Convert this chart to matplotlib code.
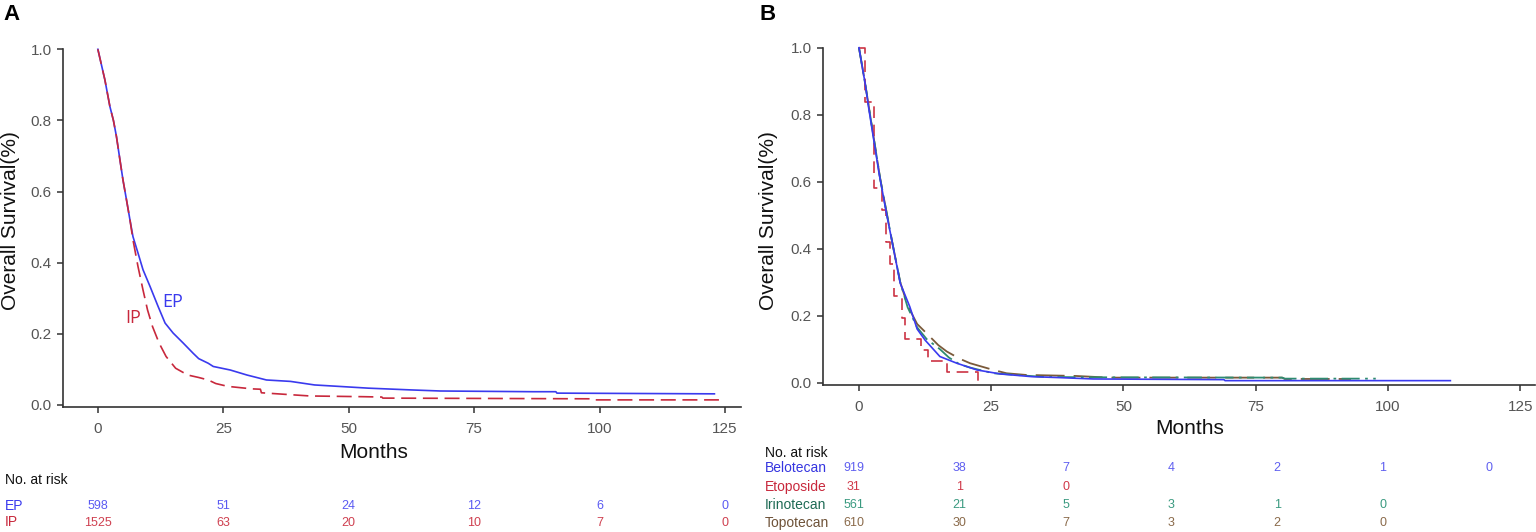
import matplotlib
matplotlib.use("Agg")
import matplotlib.pyplot as plt
from matplotlib import transforms

plt.rcParams['font.family'] = ['Liberation Sans', 'DejaVu Sans']

# ---------------- Panel A data ----------------
ep_t = [0, 1.4, 2.4, 3.1, 3.7, 4.4, 5.0, 5.7, 6.4, 7.0, 8.0, 9.0, 10.4, 12.0, 13.4, 15.0, 17.0, 19.0,
        20.1, 22.0, 23.0, 26.4, 29.7, 33.6, 38.4, 43.2, 48.0, 53.9, 62.5, 68.3, 86.7, 91.3, 91.5, 122.9]
ep_s = [1.0, 0.914, 0.839, 0.80, 0.755, 0.689, 0.633, 0.577, 0.52, 0.473, 0.427, 0.38, 0.333, 0.277, 0.23,
        0.202, 0.174, 0.145, 0.13, 0.117, 0.108, 0.098, 0.084, 0.070, 0.066, 0.056, 0.052, 0.047, 0.042,
        0.039, 0.037, 0.037, 0.033, 0.031]

ip_t = [0, 1.4, 2.4, 3.1, 3.7, 4.4, 5.0, 5.7, 6.4, 7.0, 8.0, 9.0, 9.9, 10.9, 12.2, 13.6, 15.5, 17.9,
        20.1, 22.0, 23.5, 25.9, 30.7, 32.4, 32.6, 42.3, 52.9, 56.6, 56.8, 99.0, 99.2, 123.8]
ip_s = [1.0, 0.914, 0.839, 0.80, 0.755, 0.689, 0.633, 0.577, 0.52, 0.464, 0.389, 0.323, 0.267, 0.22,
        0.174, 0.136, 0.103, 0.084, 0.077, 0.070, 0.060, 0.052, 0.045, 0.044, 0.034, 0.025, 0.023,
        0.022, 0.019, 0.017, 0.014, 0.014]

risk_times_A = [0, 25, 50, 75, 100, 125]
risk_groups_A = ['EP', 'IP']
risk_EP = [598, 51, 24, 12, 6, 0]
risk_IP = [1525, 63, 20, 10, 7, 0]

# ---------------- Panel B data ----------------
belo_t = [0, 1.2, 1.8, 2.6, 3.8, 5.2, 6.2, 7.8, 9.6, 11.0, 12.5, 15.3, 18.5, 20.4, 22.3, 26.7, 32.6,
          38.0, 44.3, 69.0, 69.2, 111.8]
belo_s = [1.0, 0.89, 0.824, 0.744, 0.625, 0.505, 0.426, 0.297, 0.227, 0.16, 0.127, 0.078, 0.058, 0.048,
          0.038, 0.026, 0.018, 0.015, 0.011, 0.009, 0.006, 0.006]

etop_t = [0, 1.2, 2.8, 4.3, 5.2, 5.9, 6.6, 8.2, 8.7, 11.8, 13.0, 16.6, 22.5]
etop_s = [1.0, 0.839, 0.581, 0.516, 0.419, 0.355, 0.258, 0.194, 0.129, 0.097, 0.065, 0.032, 0.0]

irin_t = [0, 1.2, 2.6, 4.0, 5.2, 6.4, 7.8, 9.2, 11.0, 12.8, 15.3, 17.0, 19.0, 21.0, 25.4, 34.9, 44.3,
          80.0, 80.5, 97.7]
irin_s = [1.0, 0.89, 0.75, 0.61, 0.51, 0.41, 0.30, 0.225, 0.165, 0.13, 0.10, 0.075, 0.055, 0.045,
          0.028, 0.017, 0.016, 0.015, 0.012, 0.012]

topo_t = [0, 1.2, 2.6, 4.0, 5.2, 6.4, 7.8, 9.2, 11.0, 12.8, 15.0, 16.6, 19.1, 21.0, 25.4, 27.9, 31.6,
          41.0, 47.3, 80.0, 80.5, 93.0]
topo_s = [1.0, 0.89, 0.75, 0.61, 0.51, 0.41, 0.30, 0.23, 0.175, 0.147, 0.112, 0.093, 0.071, 0.058,
          0.038, 0.028, 0.023, 0.020, 0.015, 0.015, 0.011, 0.011]

risk_times_B = [0, 20, 40, 60, 80, 100, 120]
risk_groups_B = ['Belotecan', 'Etoposide', 'Irinotecan', 'Topotecan']
risk_belo = [919, 38, 7, 4, 2, 1, 0]
risk_etop = [31, 1, 0]
risk_irin = [561, 21, 5, 3, 1, 0]
risk_topo = [610, 30, 7, 3, 2, 0]

x_ticks = [0, 25, 50, 75, 100, 125]
y_ticks = [0.0, 0.2, 0.4, 0.6, 0.8, 1.0]

# ---------------- figure ----------------
W, H = 1536, 532
fig = plt.figure(figsize=(W / 100, H / 100), dpi=100)


def px(x, y):
    return x / W, 1 - y / H


def style_axes(ax, xlim, ylim):
    ax.set_xlim(*xlim)
    ax.set_ylim(*ylim)
    for s in ['top', 'right']:
        ax.spines[s].set_visible(False)
    for s in ['left', 'bottom']:
        ax.spines[s].set_color('#333333')
        ax.spines[s].set_linewidth(1.2)
    ax.set_xticks(x_ticks)
    ax.set_yticks(y_ticks)
    ax.set_yticklabels([f'{v:.1f}' for v in y_ticks])
    ax.tick_params(axis='both', direction='out', color='#333333', width=1.1, labelcolor='#555555',
                   labelsize=11)
    ax.tick_params(axis='x', length=4, pad=6.5)
    ax.tick_params(axis='y', length=4.5, pad=3.5)


# Panel A axes: left 63px, right 741px, top 49px, bottom 407px
axA = fig.add_axes([63 / W, 1 - 407 / H, (741 - 63) / W, (407 - 49.3) / H])
style_axes(axA, (-6.95, 128.2), (-0.006, 1.0))

blueA = '#3a3aee'
redA = '#c8283c'
axA.plot(ep_t, ep_s, color=blueA, lw=1.2, clip_on=False, zorder=2)
axA.plot(ip_t, ip_s, color=redA, lw=1.2, linestyle=(0, (9, 4)), clip_on=False, zorder=3)
axA.text(15.0, 0.29, 'EP', color=blueA, fontsize=13, ha='center', va='center',
         family=['Open Sans', 'DejaVu Sans'])
axA.text(7.0, 0.244, 'IP', color=redA, fontsize=13, ha='center', va='center',
         family=['Open Sans', 'DejaVu Sans'])

# Panel B axes: left 823px, right 1535px, top 47.7px, bottom 385px
axB = fig.add_axes([823 / W, 1 - 385 / H, (1535 - 823) / W, (385 - 47.7) / H])
style_axes(axB, (-6.8, 127.8), (-0.007, 1.0))

c_belo = '#3a3af0'
c_etop = '#cc3344'
c_irin = '#2e8b70'
c_topo = '#7a5a3a'
axB.plot(topo_t, topo_s, color=c_topo, lw=1.3, linestyle=(0, (16, 5)), clip_on=False, zorder=2)
axB.plot(irin_t, irin_s, color=c_irin, lw=1.3, linestyle=(0, (10, 3, 1.5, 3)), clip_on=False, zorder=2)
axB.plot(etop_t, etop_s, color=c_etop, lw=1.2, linestyle=(0, (7, 4)), drawstyle='steps-post',
         clip_on=False, zorder=3)
axB.plot(belo_t, belo_s, color=c_belo, lw=1.2, clip_on=False, zorder=4)

# Axis titles
for (xc, yc) in [(11, 221), (768, 221)]:
    fx, fy = px(xc, yc)
    fig.text(fx, fy, 'Overall Survival(%)', rotation=90, ha='center', va='center', fontsize=15,
             color='#111111')
for (xc, yc) in [(374, 452), (1190, 428)]:
    fx, fy = px(xc, yc)
    fig.text(fx, fy, 'Months', ha='center', va='center', fontsize=15, color='#111111')

# Panel letters
for lab, (xc, yc) in [('A', (12, 15)), ('B', (768, 15))]:
    fx, fy = px(xc, yc)
    fig.text(fx, fy, lab, ha='center', va='center', fontsize=16, fontweight='bold', color='black')

# ---------------- risk tables ----------------
# A
fx, fy = px(5, 480)
fig.text(fx, fy, 'No. at risk', ha='left', va='center', fontsize=10, color='#111111')
transA = transforms.blended_transform_factory(axA.transData, fig.transFigure)
rowsA = [(risk_groups_A[0], risk_EP, blueA, '#5a5af2', 506),
         (risk_groups_A[1], risk_IP, redA, '#cf4050', 522.5)]
for name, vals, lc, nc, yy in rowsA:
    fx, fy = px(5, yy)
    fig.text(fx, fy, name, ha='left', va='center', fontsize=10, color=lc)
    for t, v in zip(risk_times_A, vals):
        axA.text(t, fy, str(v), transform=transA, ha='center', va='center', fontsize=9, color=nc)

# B
fx, fy = px(765, 453)
fig.text(fx, fy, 'No. at risk', ha='left', va='center', fontsize=10, color='#111111')
transB = transforms.offset_copy(transforms.blended_transform_factory(axB.transData, fig.transFigure),
                                fig=fig, x=-5, y=0, units='dots')
rowsB = [(risk_groups_B[0], risk_belo, '#3535e0', '#5f5ff0', 468),
         (risk_groups_B[1], risk_etop, '#c8283c', '#d03848', 487),
         (risk_groups_B[2], risk_irin, '#1e6b55', '#3a9a80', 505),
         (risk_groups_B[3], risk_topo, '#6e5238', '#8a6a4a', 523)]
for name, vals, lc, nc, yy in rowsB:
    fx, fy = px(765, yy)
    fig.text(fx, fy, name, ha='left', va='center', fontsize=10, color=lc)
    for t, v in zip(risk_times_B, vals):
        axB.text(t, fy, str(v), transform=transB, ha='center', va='center', fontsize=9, color=nc)

fig.savefig('out.png', dpi=100, facecolor='white')
